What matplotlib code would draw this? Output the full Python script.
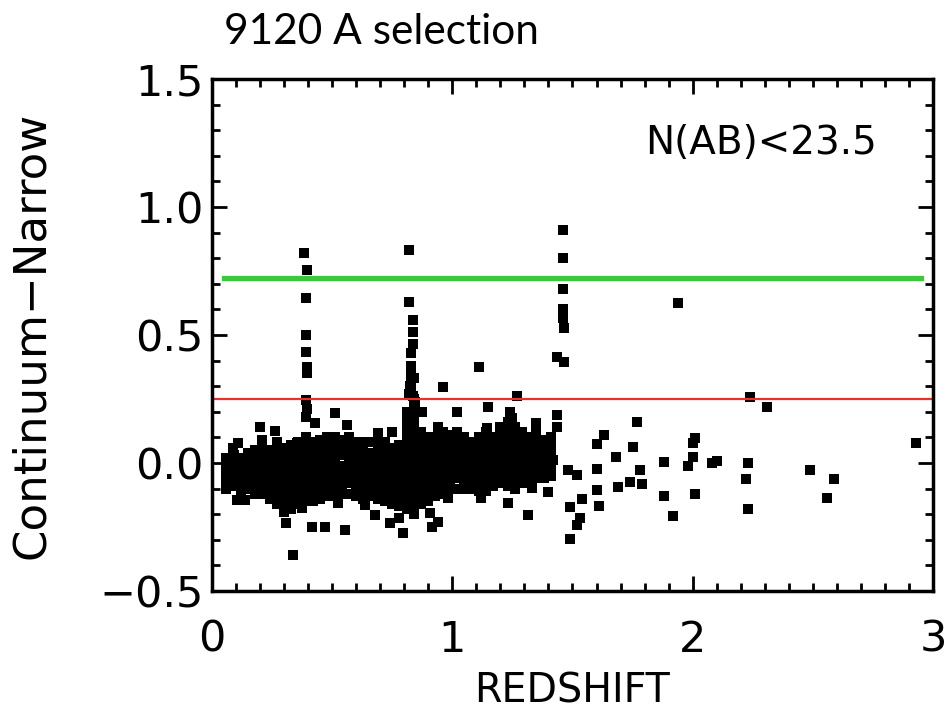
import numpy as np
import matplotlib.pyplot as plt
from matplotlib.ticker import MultipleLocator

plt.rcParams['font.family'] = ['DejaVu Sans']

# dense cluster at z < 1.45: one x per column, y values read down the column
cluster_z = [0.06, 0.09, 0.12, 0.15, 0.18, 0.21, 0.24, 0.27, 0.30, 0.33,
             0.36, 0.39, 0.42, 0.45, 0.48, 0.51, 0.54, 0.57, 0.60, 0.63,
             0.66, 0.69, 0.72, 0.75, 0.78, 0.81, 0.84, 0.87, 0.90, 0.93,
             0.96, 0.99, 1.02, 1.05, 1.08, 1.11, 1.14, 1.17, 1.20, 1.23,
             1.26, 1.29, 1.32, 1.35, 1.38, 1.41]
cluster_y = [
    [0.02, -0.01, -0.04, -0.07, -0.10],
    [0.03, 0.00, -0.03, -0.06, -0.09],
    [0.02, -0.02, -0.05, -0.08, -0.11],
    [0.04, 0.01, -0.02, -0.05, -0.08, -0.10],
    [0.05, 0.02, -0.01, -0.04, -0.07, -0.10, -0.12],
    [0.06, 0.03, 0.00, -0.03, -0.06, -0.09, -0.12],
    [0.05, 0.02, -0.02, -0.05, -0.08, -0.11, -0.14],
    [0.06, 0.03, 0.00, -0.03, -0.06, -0.09, -0.12, -0.16],
    [0.06, 0.02, -0.01, -0.04, -0.07, -0.10, -0.13, -0.16, -0.19],
    [0.07, 0.04, 0.01, -0.02, -0.05, -0.08, -0.11, -0.14, -0.18],
    [0.08, 0.05, 0.02, -0.01, -0.04, -0.07, -0.10, -0.13, -0.16],
    [0.10, 0.07, 0.04, 0.01, -0.02, -0.05, -0.08, -0.11, -0.15],
    [0.08, 0.05, 0.02, -0.01, -0.04, -0.07, -0.10, -0.13, -0.15],
    [0.09, 0.06, 0.03, 0.00, -0.03, -0.06, -0.09, -0.12, -0.14],
    [0.10, 0.07, 0.04, 0.01, -0.02, -0.05, -0.08, -0.11, -0.13],
    [0.10, 0.07, 0.03, 0.00, -0.03, -0.06, -0.09, -0.13],
    [0.09, 0.06, 0.03, -0.01, -0.04, -0.07, -0.10, -0.12],
    [0.10, 0.07, 0.04, 0.01, -0.02, -0.05, -0.08, -0.12],
    [0.08, 0.05, 0.02, -0.01, -0.04, -0.07, -0.10, -0.13],
    [0.08, 0.05, 0.02, -0.02, -0.05, -0.08, -0.11, -0.14],
    [0.08, 0.04, 0.01, -0.02, -0.05, -0.08, -0.11, -0.13],
    [0.09, 0.06, 0.03, 0.00, -0.03, -0.06, -0.09, -0.12, -0.14],
    [0.08, 0.05, 0.02, -0.01, -0.04, -0.07, -0.10, -0.13, -0.15],
    [0.06, 0.03, 0.00, -0.03, -0.06, -0.09, -0.12, -0.16],
    [0.07, 0.04, 0.01, -0.02, -0.05, -0.08, -0.11, -0.14, -0.17],
    [0.20, 0.17, 0.14, 0.11, 0.08, 0.05, 0.02, -0.01, -0.04, -0.07, -0.10, -0.13, -0.16, -0.18],
    [0.25, 0.22, 0.19, 0.16, 0.13, 0.10, 0.07, 0.04, 0.01, -0.02, -0.05, -0.08, -0.11, -0.14, -0.17, -0.20],
    [0.12, 0.09, 0.06, 0.03, 0.00, -0.03, -0.06, -0.09, -0.12, -0.16],
    [0.10, 0.07, 0.04, 0.01, -0.02, -0.05, -0.08, -0.11, -0.15],
    [0.10, 0.07, 0.04, 0.01, -0.02, -0.05, -0.08, -0.11, -0.13],
    [0.12, 0.09, 0.06, 0.03, 0.00, -0.03, -0.06, -0.09, -0.12],
    [0.11, 0.08, 0.05, 0.02, -0.01, -0.04, -0.07, -0.10],
    [0.12, 0.09, 0.06, 0.03, 0.00, -0.03, -0.06, -0.10],
    [0.10, 0.07, 0.04, 0.01, -0.02, -0.05, -0.08, -0.10],
    [0.08, 0.05, 0.02, -0.01, -0.04, -0.07, -0.10],
    [0.10, 0.07, 0.04, 0.01, -0.02, -0.05, -0.08, -0.11],
    [0.12, 0.09, 0.06, 0.03, 0.00, -0.03, -0.06, -0.09, -0.11],
    [0.10, 0.07, 0.04, 0.01, -0.02, -0.05, -0.09],
    [0.14, 0.11, 0.08, 0.05, 0.02, -0.01, -0.04, -0.08],
    [0.16, 0.13, 0.10, 0.07, 0.04, 0.01, -0.02, -0.05, -0.09],
    [0.14, 0.11, 0.08, 0.05, 0.02, -0.01, -0.04, -0.07, -0.10],
    [0.12, 0.09, 0.06, 0.03, 0.00, -0.03, -0.06, -0.08],
    [0.10, 0.07, 0.04, 0.01, -0.02, -0.05, -0.08],
    [0.12, 0.09, 0.06, 0.03, 0.00, -0.03, -0.06],
    [0.09, 0.06, 0.03, 0.00, -0.03, -0.06],
    [0.10, 0.07, 0.04, 0.01, -0.02, -0.05],
]

# isolated points around the edge of the cluster
edge_z = [0.087, 0.108, 0.104, 0.137, 0.20, 0.262, 0.208, 0.27, 0.354, 0.43,
          0.51, 0.31, 0.337, 0.416, 0.47, 0.375, 0.56, 0.69, 0.75, 0.874,
          1.02, 0.94, 0.553, 0.637, 0.68, 0.74, 0.795, 0.78, 0.907, 0.915,
          0.94, 0.525, 0.98, 1.15, 1.24, 1.25, 1.27, 1.435, 1.35, 1.145,
          1.07, 1.12, 1.23, 1.315, 1.40, 1.33, 0.963, 1.11, 1.42, 1.435]
edge_y = [0.059, 0.078, -0.145, -0.145, 0.141, 0.125, 0.09, 0.082, 0.078, 0.156,
          0.195, -0.234, -0.36, -0.25, -0.25, -0.176, 0.148, 0.117, 0.121, 0.20,
          0.20, 0.141, -0.26, -0.164, -0.203, -0.234, -0.273, -0.215, -0.195, -0.25,
          -0.23, -0.156, -0.137, 0.22, 0.20, 0.176, 0.26, 0.187, 0.156, 0.137,
          0.082, -0.137, -0.156, -0.203, -0.113, -0.098, 0.297, 0.375, 0.012, 0.141]

# vertical spikes of line emitters
spike_z = [0.383, 0.395, 0.39, 0.39, 0.39, 0.395, 0.395, 0.393, 0.395, 0.393,
           0.82, 0.82, 0.837, 0.835, 0.835, 0.83, 0.828, 0.83, 0.83, 0.83,
           0.835, 0.825, 0.84, 0.82, 0.845,
           1.46, 1.46, 1.46, 1.46, 1.46, 1.463, 1.435, 1.465, 1.94]
spike_y = [0.82, 0.754, 0.645, 0.50, 0.434, 0.375, 0.35, 0.245, 0.21, 0.18,
           0.83, 0.63, 0.56, 0.51, 0.465, 0.43, 0.38, 0.35, 0.32, 0.285,
           0.26, 0.30, 0.33, 0.27, 0.24,
           0.91, 0.80, 0.68, 0.60, 0.566, 0.527, 0.414, 0.394, 0.625]

# sparse high-redshift points
high_z = [1.77, 1.63, 1.60, 1.75, 1.68, 1.88, 1.78, 1.60, 1.48, 1.52,
          1.74, 1.79, 1.69, 1.60, 1.88, 1.61, 1.54, 1.49, 1.53, 1.52,
          1.49, 1.92, 2.0, 2.01, 2.0, 1.98, 2.01, 2.24, 2.31, 2.08,
          2.10, 2.23, 2.22, 2.23, 2.49, 2.59, 2.56, 2.93]
high_y = [0.16, 0.11, 0.074, 0.063, 0.023, 0.004, -0.027, -0.023, -0.027, -0.047,
          -0.074, -0.082, -0.094, -0.105, -0.129, -0.168, -0.14, -0.172, -0.215, -0.242,
          -0.297, -0.207, 0.078, 0.098, 0.023, -0.012, -0.121, 0.258, 0.22, 0.0,
          0.008, 0.0, -0.063, -0.18, -0.027, -0.063, -0.137, 0.078]

green_cut = 0.723
red_cut = 0.25

z_all = np.concatenate([np.repeat(cluster_z, [len(c) for c in cluster_y]),
                        edge_z, spike_z, high_z])
y_all = np.concatenate([np.concatenate(cluster_y), edge_y, spike_y, high_y])

fig = plt.figure(figsize=(9.48, 7.14), dpi=100)
ax = fig.add_axes([0.2236, 0.1723, 0.7606, 0.7171])

ax.plot(z_all, y_all, 's', color='black', markersize=6.8, markeredgewidth=0)
ax.plot([0.05, 2.95], [green_cut, green_cut], color='#3cc83c', linewidth=3.8)
ax.axhline(red_cut, color='#e8312a', linewidth=1.6)

ax.set_xlim(0, 3)
ax.set_ylim(-0.5, 1.5)
ax.xaxis.set_major_locator(MultipleLocator(1))
ax.xaxis.set_minor_locator(MultipleLocator(0.1))
ax.yaxis.set_major_locator(MultipleLocator(0.5))
ax.yaxis.set_minor_locator(MultipleLocator(0.1))
ax.yaxis.set_major_formatter(plt.FuncFormatter(lambda v, p: f'{v:.1f}'.replace('-', '\u2212')))
ax.tick_params(which='both', direction='in', top=True, right=True, width=2)
ax.tick_params(which='major', length=11)
ax.tick_params(which='minor', length=6)
ax.tick_params(axis='x', labelsize=31, pad=20)
ax.tick_params(axis='y', labelsize=31, pad=6)
for s in ax.spines.values():
    s.set_linewidth(2.5)

ax.set_xlabel('REDSHIFT', fontsize=28.5)
ax.xaxis.set_label_coords(0.5, -0.158)
ax.set_ylabel('Continuum\u2212Narrow', fontsize=32.5)
ax.yaxis.set_label_coords(-0.22, 0.5)
ax.text(0.922, 0.875, 'N(AB)<23.5', transform=ax.transAxes, fontsize=28, ha='right', va='center')
fig.text(0.236, 0.955, '9120 A selection', fontsize=30.5, family='Lato', va='center')

fig.savefig('out.png', dpi=100)
